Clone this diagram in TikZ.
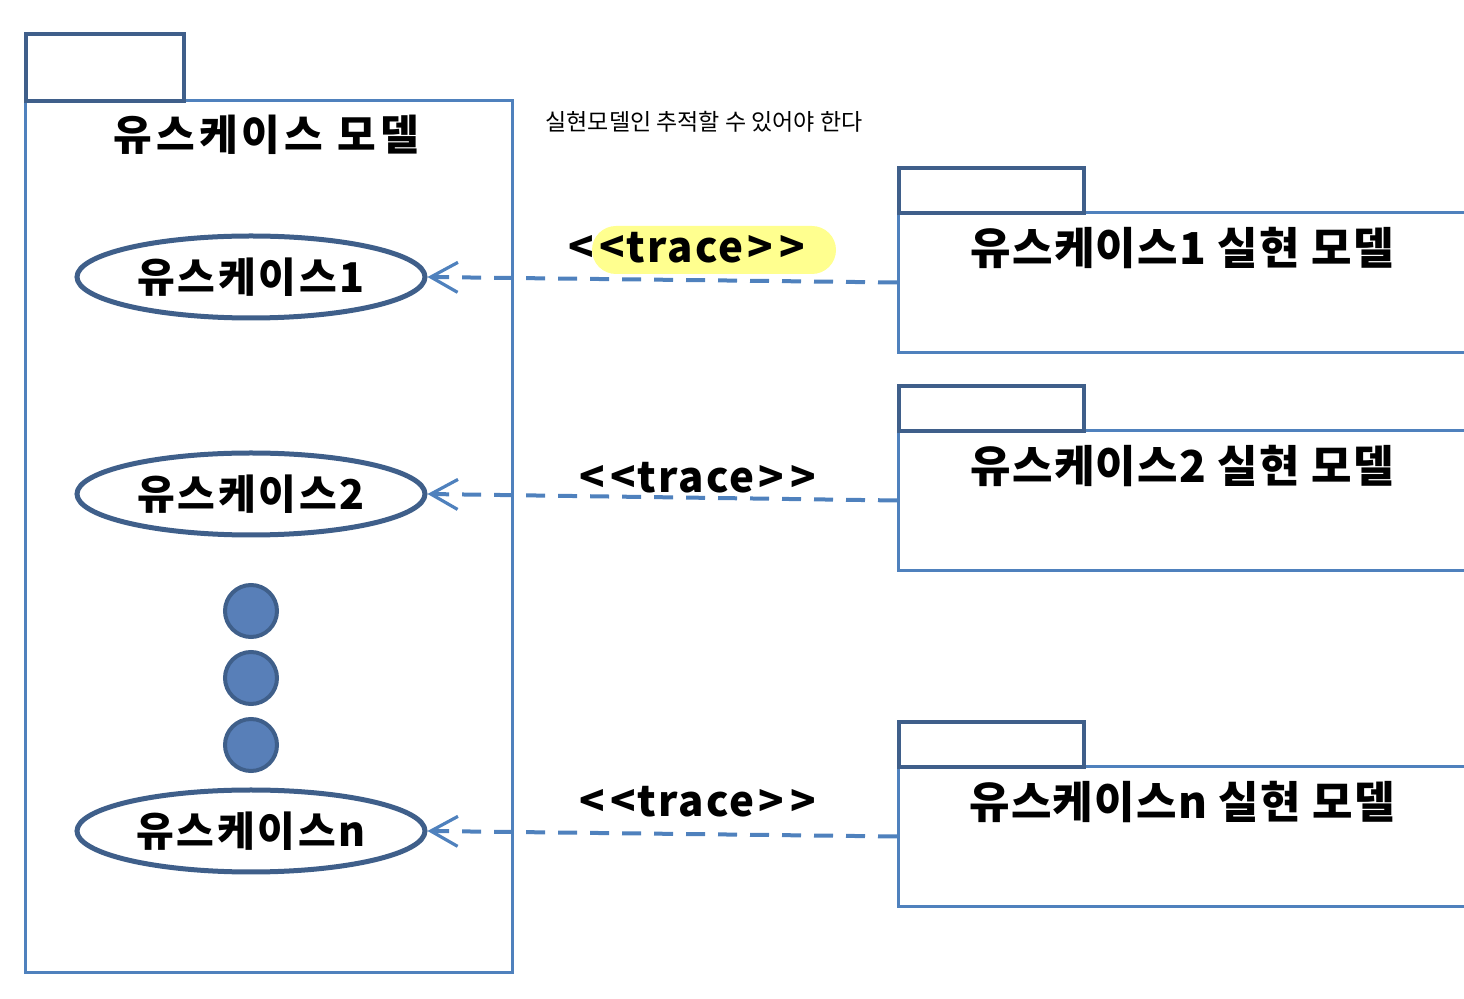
\documentclass[tikz,border=0pt]{standalone}
\usepackage{fontspec}
\setmainfont{Noto Sans CJK KR}
\usetikzlibrary{shapes.geometric,arrows.meta}
\definecolor{pkgline}{HTML}{4F81BD}
\definecolor{pkgdark}{HTML}{3F5F8A}
\definecolor{dotfill}{HTML}{587FB8}
\definecolor{tracehl}{HTML}{FFFF8F}
\newcommand{\tracetext}{<\kern3pt<\kern0.5pt trace\kern2pt>\kern3.5pt>}

\begin{document}
\begin{tikzpicture}[x=0.5pt,y=-0.5pt]
    \tikzset{pkgbody/.style = {shape=rectangle,draw=pkgline,line width=1.5pt,inner sep=0pt,anchor=north west}}
    \tikzset{pkgtab/.style = {shape=rectangle,draw=pkgdark,line width=2pt,inner sep=0pt,anchor=north west}}
    \tikzset{usecase/.style = {shape=ellipse,draw=pkgdark,line width=2.5pt,fill=white,inner sep=0pt,
        minimum width=174pt,minimum height=41pt,font=\fontsize{20.5}{24}\selectfont\bfseries\addfontfeature{LetterSpace=7}}}
    \tikzset{moredot/.style = {shape=circle,draw=pkgdark,fill=dotfill,line width=2pt,minimum size=26pt,inner sep=0pt}}
    \tikzset{pkgtitle/.style = {font=\fontsize{22}{26}\selectfont\bfseries\addfontfeature{LetterSpace=3},inner sep=0pt}}
    \tikzset{tracelabel/.style = {font=\fontsize{21}{24}\selectfont\bfseries\addfontfeature{LetterSpace=5},inner sep=0pt}}
    \tikzset{trace/.style = {draw=pkgline,line width=2pt,dash pattern=on 9.5pt off 6.5pt,
        -{Straight Barb[length=13.5pt,width=15pt,line width=1.6pt]}}}

    \clip (0,0) rectangle (1464,999);

    % use case model
    \node[pkgbody,minimum width=243.5pt,minimum height=436pt] (ucbody) at (24,99) {};
    \node[pkgtab,minimum width=79pt,minimum height=33.5pt] (uctab) at (24,32) {};
    \node[pkgtitle,font=\fontsize{21}{26}\selectfont\bfseries\addfontfeature{LetterSpace=10}] (uctitle) at (266,135) {유스케이스 모델};

    \node[usecase] (uc1) at (251,277) {유스케이스1};
    \node[usecase] (uc2) at (251,494) {유스케이스2};
    \node[moredot] (dot1) at (251,611) {};
    \node[moredot] (dot2) at (251,678) {};
    \node[moredot] (dot3) at (251,745) {};
    \node[usecase] (ucn) at (251,831) {유스케이스n};

    % realization models
    \foreach \i/\y/\t in {1/166/유스케이스1 실현 모델,2/384/유스케이스2 실현 모델,n/720/유스케이스n 실현 모델} {
        \node[pkgbody,minimum width=300pt,minimum height=70pt] (rm\i) at (897,\y+45) {};
        \node[pkgtab,minimum width=92.5pt,minimum height=22.5pt] (rmtab\i) at (897,\y) {};
        \node[pkgtitle] (rmtitle\i) at (1182,\y+82) {\t};
    }

    \node[font=\fontsize{11.5}{14}\selectfont] (note) at (704,122) {실현모델인 추적할 수 있어야 한다};

    % trace dependencies
    \node[fill=tracehl,rounded corners=12pt,minimum width=122pt,minimum height=24pt] (hl1) at (714,250) {};
    \node[tracelabel] (trace1) at (687,248) {\tracetext};
    \node[tracelabel] (trace2) at (698,478) {\tracetext};
    \node[tracelabel] (tracen) at (698,802) {\tracetext};

    \draw[trace] (rm1.west) -- (uc1.east);
    \draw[trace] (rm2.west) -- (uc2.east);
    \draw[trace] (rmn.west) -- (ucn.east);

\end{tikzpicture}
\end{document}
